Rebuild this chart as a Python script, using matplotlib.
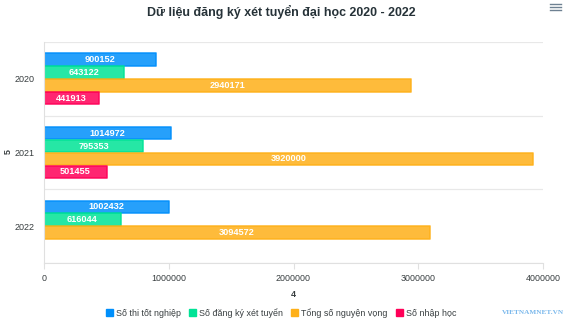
import numpy as np
import matplotlib
matplotlib.use("Agg")
import matplotlib.pyplot as plt
from matplotlib.patches import Patch

plt.rcParams['font.family'] = ['Liberation Sans', 'DejaVu Sans']

# --- data ---
years = ["2020", "2021", "2022"]
series_names = ["Số thi tốt nghiệp", "Số đăng ký xét tuyển",
                "Tổng số nguyện vọng", "Số nhập học"]
thi_tot_nghiep = [900152, 1014972, 1002432]
dang_ky = [643122, 795353, 616044]
nguyen_vong = [2940171, 3920000, 3094572]
nhap_hoc = [441913, 501455, None]
series_values = [thi_tot_nghiep, dang_ky, nguyen_vong, nhap_hoc]
colors = ["#008FFB", "#00E396", "#FEB019", "#FF0058"]
x_ticks = [0, 1000000, 2000000, 3000000, 4000000]

fig = plt.figure(figsize=(5.72, 3.28), dpi=100)
ax = fig.add_axes([44 / 572, 1 - 263 / 328, 499 / 572, 221 / 328])

bar_h = 13 / 74
offsets = (np.arange(len(series_names)) - 1.5) * bar_h
ypos = np.arange(len(years))

for vals, off, col in zip(series_values, offsets, colors):
    for y, v in zip(ypos, vals):
        if v is None:
            continue
        bars = ax.barh(y + off, v, height=bar_h * 0.96, color=col, alpha=0.85,
                       edgecolor=col, linewidth=1.2)
        for b in bars:
            b.set_joinstyle("round")
        ax.text(v / 2, y + off, str(v), ha="center", va="center",
                color="white", fontsize=6.6, fontweight="bold")

ax.set_ylim(len(years) - 0.5, -0.5)
ax.set_xlim(0, 4000000)
ax.set_yticks(ypos)
ax.set_yticklabels(years, fontsize=6.5, color="#373d3f")
ax.set_xticks(x_ticks)
ax.set_xticklabels([str(t) for t in x_ticks], fontsize=6.4, color="#373d3f")
ax.tick_params(axis="y", length=0, pad=7)
ax.tick_params(axis="x", length=4, color="#e0e0e0", pad=4)

# horizontal grid lines at category boundaries
for yb in np.arange(-0.5, len(years) + 0.5, 1.0):
    ax.axhline(yb, color="#e8e8e8", linewidth=0.9, zorder=0)
for s in ["top", "right"]:
    ax.spines[s].set_visible(False)
ax.spines["left"].set_color("#e0e0e0")
ax.spines["bottom"].set_color("#e0e0e0")

ax.set_xlabel("4", fontsize=6.5, fontweight="bold", color="#373d3f", labelpad=5)
# y-axis title placed by hand so it stays inside the figure
fig.text(8 / 572, 1 - 152 / 328, "5", rotation=90, ha="center", va="center",
         fontsize=6.5, fontweight="bold", color="#373d3f")

fig.text(0.491, 1 - 12 / 328, "Dữ liệu đăng ký xét tuyển đại học 2020 - 2022",
         ha="center", va="center", fontsize=8.9, fontweight="bold",
         color="#263238")

# hamburger menu icon
for dy in (4, 7, 10):
    fig.add_artist(plt.Line2D([550 / 572, 561 / 572],
                              [1 - dy / 328, 1 - dy / 328],
                              color="#6e8192", linewidth=1.0))

handles = [Patch(facecolor=c, edgecolor=c) for c in colors]
fig.legend(handles, series_names, loc="center", ncol=4,
           bbox_to_anchor=(281 / 572, 1 - 313 / 328), frameon=False,
           fontsize=6.4, handlelength=0.8, handleheight=0.9,
           handletextpad=0.35, columnspacing=0.9, labelcolor="#373d3f")

fig.text(564 / 572, 1 - 313 / 328, "VIETNAMNET.VN", ha="right", va="center",
         fontsize=5.2, color="#7ab8ec", family="Liberation Serif",
         fontweight="bold")

fig.savefig("out.png", dpi=100)
